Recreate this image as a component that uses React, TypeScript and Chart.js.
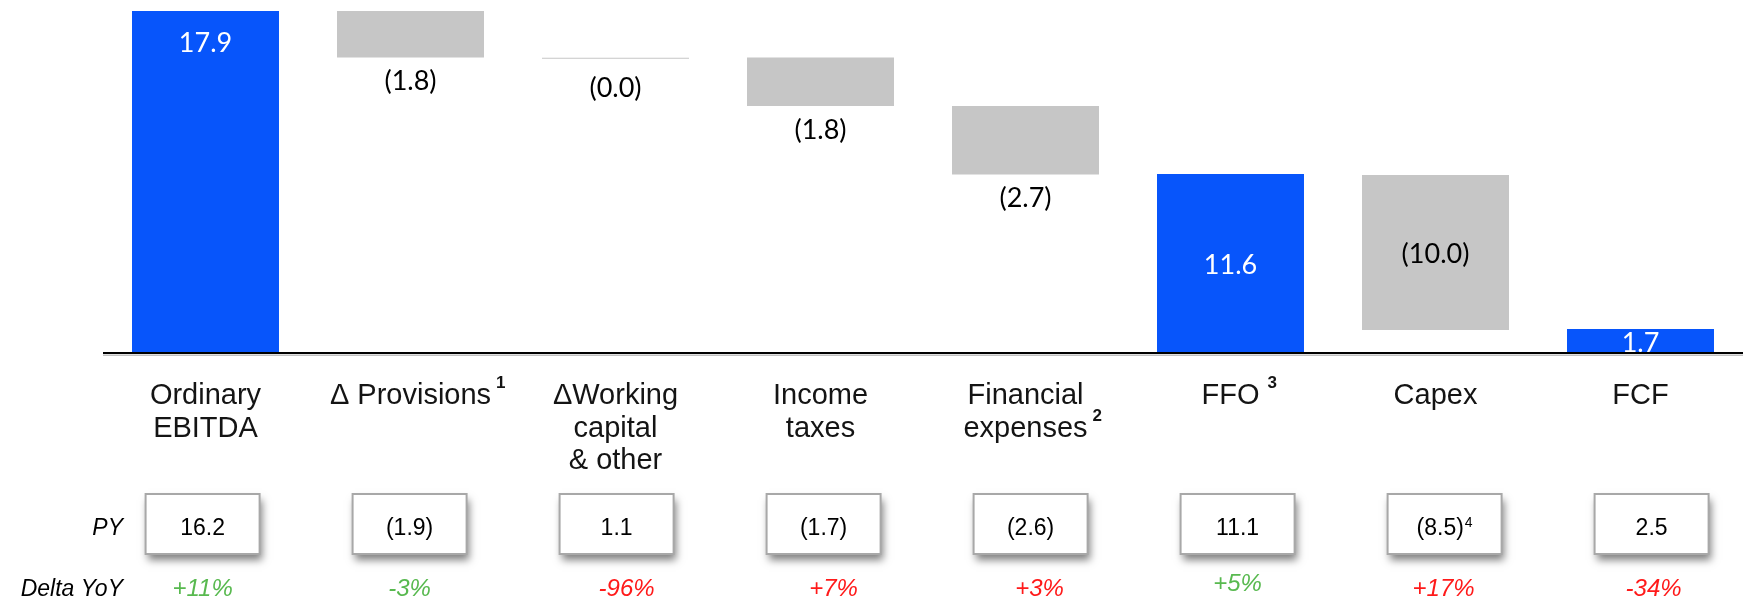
import React, { useEffect, useRef } from "react";
import { Chart, registerables } from "chart.js";

Chart.register(...registerables);

// ---------- data ----------
const categories: string[][] = [
  ["Ordinary", "EBITDA"],
  ["\u0394 Provisions"],
  ["\u0394Working", "capital", "& other"],
  ["Income", "taxes"],
  ["Financial", "expenses"],
  ["FFO"],
  ["Capex"],
  ["FCF"],
];
const categoryNotes = ["", "1", "", "", "2", "3", "", ""];
const kinds = ["total", "delta", "delta", "delta", "delta", "total", "delta", "total"];
// reported values (labels)
const reported = [17.9, -1.8, -0.0, -1.8, -2.7, 11.6, -10.0, 1.7];
// bar extents as drawn in the picture (chart units)
const barFrom = [0, 15.46, 15.4, 12.93, 9.34, 0, 1.2, 0];
const barTo = [17.9, 17.9, 15.45, 15.46, 12.93, 9.37, 9.32, 1.26];
// prior year
const pyValues = [16.2, -1.9, 1.1, -1.7, -2.6, 11.1, -8.5, 2.5];
const pyNotes = ["", "", "", "", "", "", "4", ""];
// delta YoY (%)
const deltaYoY = [11, -3, -96, 7, 3, 5, 17, -34];
const deltaTone = ["good", "good", "bad", "bad", "bad", "good", "bad", "bad"];

// ---------- style ----------
const BLUE = "#0755FB";
const GRAY = "#C6C6C6";
const GREEN = "#58B94F";
const RED = "#FF1A1A";
const labelMode = ["top", "below", "below", "below", "below", "center", "center", "center"];
const deltaNudge = [0, 0, 10, 10, 9, 0, -1, 2];
const deltaRaise = [0, 0, 0, 0, 0, 5, 0, 0];

const fmt = (v: number) =>
  v < 0 || Object.is(v, -0) ? `(${Math.abs(v).toFixed(1)})` : v.toFixed(1);
const fmtPct = (v: number) => (v > 0 ? `+${v}%` : `${v}%`);

const SANS = '"Liberation Sans", Arial, sans-serif';
const LATO = 'Lato, "Open Sans", sans-serif';

const overlay = {
  id: "overlay",
  afterDatasetsDraw(chart: any) {
    const ctx: CanvasRenderingContext2D = chart.ctx;
    const area = chart.chartArea;
    const y = chart.scales.y;
    const meta = chart.getDatasetMeta(0);
    const axisY = y.getPixelForValue(0);

    ctx.save();
    // axis line
    ctx.fillStyle = "#000";
    ctx.fillRect(area.left, axisY - 1, chart.width - area.left, 2);
    ctx.fillStyle = "#C0C0C0";
    ctx.fillRect(area.left, axisY + 1.5, chart.width - area.left, 1.5);

    // value labels
    ctx.font = `27px ${LATO}`;
    ctx.textAlign = "center";
    ctx.textBaseline = "alphabetic";
    const half = 9.7;
    meta.data.forEach((el: any, i: number) => {
      const top = Math.min(el.y, el.base);
      const bottom = Math.max(el.y, el.base);
      let cy: number;
      if (labelMode[i] === "top") cy = top + 31;
      else if (labelMode[i] === "below") cy = bottom + 23 + (bottom - top < 3 ? 6 : 0);
      else cy = (top + bottom) / 2 + 1;
      ctx.fillStyle = kinds[i] === "total" ? "#fff" : "#000";
      ctx.fillText(fmt(reported[i]), el.x, cy + half);
    });

    // category labels
    const catFont = `29px ${SANS}`;
    meta.data.forEach((el: any, i: number) => {
      const lines = categories[i];
      ctx.font = catFont;
      ctx.fillStyle = "#141414";
      ctx.textAlign = "center";
      lines.forEach((ln, k) => {
        const base = 404 + k * 32.5;
        ctx.font = catFont;
        ctx.fillText(ln, el.x, base);
        if (k === lines.length - 1 && categoryNotes[i]) {
          const w = ctx.measureText(ln).width;
          ctx.font = `bold 17px ${SANS}`;
          ctx.textAlign = "left";
          const gap = i === 5 ? 8 : 5;
          ctx.fillText(categoryNotes[i], el.x + w / 2 + gap, base - 16);
          ctx.textAlign = "center";
        }
      });
    });

    // row labels
    ctx.font = `italic 23px ${SANS}`;
    ctx.fillStyle = "#000";
    ctx.textAlign = "right";
    ctx.fillText("PY", 123, 535);
    ctx.fillText("Delta YoY", 123, 596);

    // PY boxes
    meta.data.forEach((el: any, i: number) => {
      const cx = el.x - 2.9 + 2 * i;
      const bw = 114;
      const bh = 60;
      const bx = cx - bw / 2;
      const by = 494;
      ctx.save();
      ctx.shadowColor = "rgba(0,0,0,0.5)";
      ctx.shadowBlur = 8;
      ctx.shadowOffsetX = 2;
      ctx.shadowOffsetY = 6;
      ctx.fillStyle = "#fff";
      ctx.fillRect(bx, by, bw, bh);
      ctx.restore();
      ctx.strokeStyle = "#A8A8A8";
      ctx.lineWidth = 2;
      ctx.strokeRect(bx, by, bw, bh);

      const txt = fmt(pyValues[i]);
      ctx.font = `23px ${SANS}`;
      const tw = ctx.measureText(txt).width;
      let sw = 0;
      if (pyNotes[i]) {
        ctx.font = `14px ${SANS}`;
        sw = ctx.measureText(pyNotes[i]).width + 1;
      }
      const startX = cx - (tw + sw) / 2;
      ctx.fillStyle = "#000";
      ctx.textAlign = "left";
      ctx.font = `23px ${SANS}`;
      ctx.fillText(txt, startX, 535);
      if (pyNotes[i]) {
        ctx.font = `14px ${SANS}`;
        ctx.fillText(pyNotes[i], startX + tw + 1, 527);
      }

      // delta
      ctx.font = `italic 24px ${SANS}`;
      ctx.textAlign = "center";
      ctx.fillStyle = deltaTone[i] === "good" ? GREEN : RED;
      ctx.fillText(fmtPct(deltaYoY[i]), cx + deltaNudge[i], 596 - deltaRaise[i]);
    });

    ctx.restore();
  },
};

export default function App() {
  const ref = useRef<HTMLCanvasElement | null>(null);

  useEffect(() => {
    if (!ref.current) return;
    const chart = new Chart(ref.current, {
      type: "bar",
      data: {
        labels: categories.map((c) => c.join(" ")),
        datasets: [
          {
            data: barFrom.map((f, i) => [f, barTo[i]]) as any,
            backgroundColor: kinds.map((k) => (k === "total" ? BLUE : GRAY)),
            borderWidth: 0,
            barPercentage: 0.717,
            categoryPercentage: 1,
          },
        ],
      },
      options: {
        responsive: false,
        animation: false,
        devicePixelRatio: 1,
        layout: { padding: { left: 103, right: 0, top: 11, bottom: 246 } },
        plugins: { legend: { display: false }, tooltip: { enabled: false } },
        scales: {
          x: { display: false, offset: true, grid: { display: false } },
          y: { display: false, min: 0, max: 17.9 },
        },
      },
      plugins: [overlay],
    });
    return () => chart.destroy();
  }, []);

  return (
    <div
      style={{
        position: "fixed",
        left: 0,
        top: 0,
        width: 1743,
        height: 599,
        background: "#fff",
      }}
    >
      <canvas ref={ref} width={1743} height={599} style={{ display: "block" }} />
    </div>
  );
}
